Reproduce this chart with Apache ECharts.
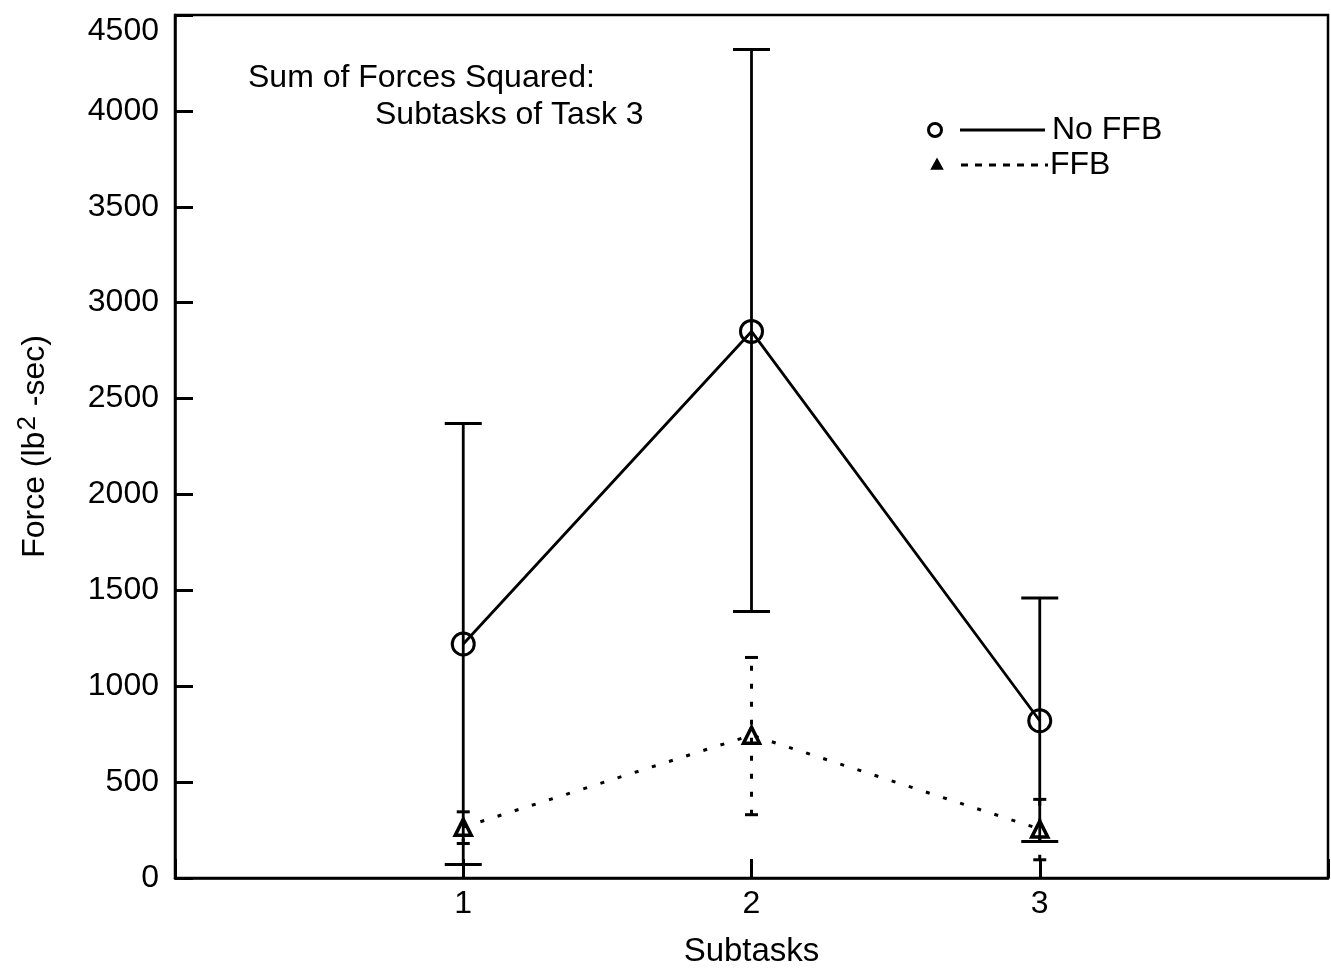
<!DOCTYPE html>
<html>
<head>
<meta charset="utf-8">
<script src="https://cdn.jsdelivr.net/npm/echarts@6/dist/echarts.min.js"></script>
<style>
html,body{margin:0;padding:0;background:#fff;}
#chart{width:1331px;height:973px;}
</style>
</head>
<body>
<div id="chart"></div>
<script>
// ---- data ----
const subtasks = [1, 2, 3];
const noFFBMean = [1220, 2850, 820];
const noFFBLow  = [70, 1390, 190];
const noFFBHigh = [2370, 4320, 1460];
const ffbMean = [265, 745, 255];
const ffbLow  = [180, 330, 95];
const ffbHigh = [345, 1150, 410];
const yTicks = [0, 500, 1000, 1500, 2000, 2500, 3000, 3500, 4000, 4500];
const titleLines = ['Sum of Forces Squared:', 'Subtasks of Task 3'];
const seriesNames = ['No FFB', 'FFB'];

const FONT = "'Liberation Sans', Arial, Helvetica, sans-serif";
const FS = 32;

function errData(lo, hi) {
  return subtasks.map((x, i) => [x, lo[i], hi[i]]);
}
function meanData(m) {
  return subtasks.map((x, i) => [x, m[i]]);
}
function errRender(capW, dash, lw) {
  return function (params, api) {
    const x = api.value(0), lo = api.value(1), hi = api.value(2);
    const a = api.coord([x, lo]), b = api.coord([x, hi]);
    const hw = capW / 2;
    const st = { stroke: '#000', lineWidth: lw, lineDash: dash };
    const cs = { stroke: '#000', lineWidth: 3 };
    return {
      type: 'group',
      children: [
        { type: 'line', shape: { x1: a[0], y1: a[1], x2: b[0], y2: b[1] }, style: st },
        { type: 'line', shape: { x1: a[0] - hw, y1: a[1], x2: a[0] + hw, y2: a[1] }, style: cs },
        { type: 'line', shape: { x1: b[0] - hw, y1: b[1], x2: b[0] + hw, y2: b[1] }, style: cs }
      ]
    };
  };
}

const chart = echarts.init(document.getElementById('chart'), null, { renderer: 'canvas' });
const option = {
  backgroundColor: '#fff',
  animation: false,
  textStyle: { fontFamily: FONT },
  grid: {
    left: 175, right: 3, top: 15, bottom: 92,
    show: true, borderColor: '#000', borderWidth: 2.5
  },
  xAxis: {
    type: 'value', min: 0, max: 4, interval: 1,
    name: 'Subtasks', nameLocation: 'middle', nameGap: 57,
    nameTextStyle: { fontSize: 33, color: '#000', fontFamily: FONT },
    axisLine: { show: true, lineStyle: { color: '#000', width: 2.5 } },
    axisTick: { show: true, inside: true, length: 19, lineStyle: { color: '#000', width: 3 } },
    axisLabel: {
      fontSize: FS, color: '#000', fontFamily: FONT, margin: 10,
      formatter: v => (subtasks.indexOf(v) >= 0 ? String(v) : '')
    },
    splitLine: { show: false }
  },
  yAxis: {
    type: 'value', min: 0, max: 4500, interval: 500,
    name: 'Force (lb{sup|2} -sec)', nameLocation: 'middle', nameGap: 120,
    nameTextStyle: {
      fontSize: 32, color: '#000', fontFamily: FONT,
      rich: { sup: { fontSize: 26, verticalAlign: 'bottom', padding: [0, 1, 14, 1], fontFamily: FONT, color: '#000' } }
    },
    axisLine: { show: true, lineStyle: { color: '#000', width: 2.5 } },
    axisTick: { show: true, inside: true, length: 18, lineStyle: { color: '#000', width: 3 } },
    axisLabel: {
      fontSize: FS, color: '#000', fontFamily: FONT, margin: 16,
      verticalAlignMaxLabel: 'top',
      formatter: v => (yTicks.indexOf(v) >= 0 ? String(v) : '')
    },
    splitLine: { show: false }
  },
  series: [
    {
      name: seriesNames[0] + ' error', type: 'custom',
      renderItem: errRender(37, null, 2.8),
      encode: { x: 0, y: [1, 2] },
      data: errData(noFFBLow, noFFBHigh), z: 2
    },
    {
      name: seriesNames[1] + ' error', type: 'custom',
      renderItem: errRender(13, [5, 13], 3),
      encode: { x: 0, y: [1, 2] },
      data: errData(ffbLow, ffbHigh), z: 2
    },
    {
      name: seriesNames[0], type: 'line',
      data: meanData(noFFBMean),
      symbol: 'circle', symbolSize: 22,
      itemStyle: { color: 'rgba(0,0,0,0)', borderColor: '#000', borderWidth: 3 },
      lineStyle: { color: '#000', width: 2.8 },
      z: 3
    },
    {
      name: seriesNames[1], type: 'line',
      data: meanData(ffbMean),
      symbol: 'triangle', symbolSize: 16,
      itemStyle: { color: 'rgba(0,0,0,0)', borderColor: '#000', borderWidth: 3.5 },
      lineStyle: { color: '#000', width: 3, type: [4, 14] },
      z: 3
    }
  ],
  graphic: [
    { type: 'text', left: 248, top: 62, style: { text: titleLines[0], font: FS + 'px ' + FONT, fill: '#000' } },
    { type: 'text', left: 375, top: 99, style: { text: titleLines[1], font: FS + 'px ' + FONT, fill: '#000' } },
    // legend
    { type: 'circle', shape: { cx: 935, cy: 130, r: 6.5 }, style: { fill: 'none', stroke: '#000', lineWidth: 3 } },
    { type: 'line', shape: { x1: 960, y1: 130, x2: 1045, y2: 130 }, style: { stroke: '#000', lineWidth: 3 } },
    { type: 'text', left: 1052, top: 114, style: { text: seriesNames[0], font: FS + 'px ' + FONT, fill: '#000' } },
    { type: 'polygon', shape: { points: [[937, 159], [931.5, 169], [942.5, 169]] }, style: { fill: '#000', stroke: '#000', lineWidth: 1.5 } },
    { type: 'line', shape: { x1: 961, y1: 165, x2: 1048, y2: 165 }, style: { stroke: '#000', lineWidth: 3, lineDash: [7, 7] } },
    { type: 'text', left: 1050, top: 149, style: { text: seriesNames[1], font: FS + 'px ' + FONT, fill: '#000' } }
  ]
};
chart.setOption(option);
</script>
</body>
</html>
